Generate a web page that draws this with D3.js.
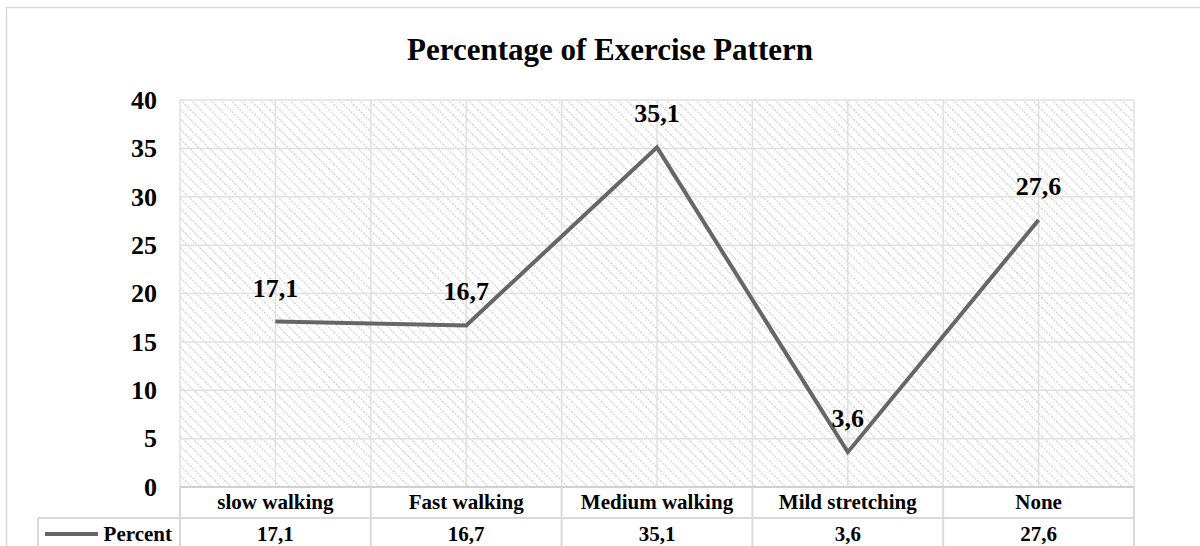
<!DOCTYPE html>
<html>
<head>
<meta charset="utf-8">
<script src="https://cdn.jsdelivr.net/npm/d3@7"></script>
<style>
  body { margin: 0; background: #fff; }
  text { font-family: "Liberation Serif", "Times New Roman", serif; font-weight: bold; fill: #000; }
</style>
</head>
<body>
<div id="chart"></div>
<script>
// chart data
var categories = ["slow walking", "Fast walking", "Medium walking", "Mild stretching", "None"];
var percent = [17.1, 16.7, 35.1, 3.6, 27.6];
var yTicks = [0, 5, 10, 15, 20, 25, 30, 35, 40];
var seriesName = "Percent";

var W = 1200, H = 546;
var margin = {top: 100, right: 66, bottom: 59, left: 180};
var plotW = W - margin.left - margin.right,
    plotH = H - margin.top - margin.bottom;

var svg = d3.select("#chart").append("svg")
    .attr("width", W)
    .attr("height", H);

// hatch fill for the plot area (downward diagonal)
var defs = svg.append("defs");
defs.append("pattern")
    .attr("id", "hatch")
    .attr("patternUnits", "userSpaceOnUse")
    .attr("width", 7).attr("height", 7)
    .attr("patternTransform", "rotate(-45)")
  .append("line")
    .attr("x1", 0).attr("y1", 0)
    .attr("x2", 0).attr("y2", 7)
    .attr("stroke", "#d2d2d2")
    .attr("stroke-width", 2.4)
    .attr("stroke-dasharray", "2,1");

// outer chart border
svg.append("rect")
    .attr("x", 6.5).attr("y", 7.5)
    .attr("width", 1210).attr("height", 560)
    .attr("fill", "none")
    .attr("stroke", "#d9d9d9")
    .attr("stroke-width", 1.5);

// title
svg.append("text")
    .attr("x", 610).attr("y", 60)
    .attr("text-anchor", "middle")
    .style("font-size", "31px")
    .text("Percentage of Exercise Pattern");

var g = svg.append("g")
    .attr("transform", "translate(" + margin.left + "," + margin.top + ")");

var x = d3.scaleBand()
    .domain(categories)
    .range([0, plotW]);

var y = d3.scaleLinear()
    .domain([0, 40])
    .range([plotH, 0]);

g.append("rect")
    .attr("width", plotW).attr("height", plotH)
    .attr("fill", "url(#hatch)");

// horizontal gridlines
g.selectAll("line.hgrid")
    .data(yTicks)
  .enter().append("line")
    .attr("class", "hgrid")
    .attr("x1", 0).attr("x2", plotW)
    .attr("y1", function(d) { return y(d); })
    .attr("y2", function(d) { return y(d); })
    .attr("stroke", "#e0e0e0")
    .attr("stroke-width", 1.5);

// vertical gridlines at category edges and centres
var vPos = [];
categories.forEach(function(c) {
  vPos.push(x(c));
  vPos.push(x(c) + x.bandwidth() / 2);
});
vPos.push(plotW);
g.selectAll("line.vgrid")
    .data(vPos)
  .enter().append("line")
    .attr("class", "vgrid")
    .attr("x1", function(d) { return d; })
    .attr("x2", function(d) { return d; })
    .attr("y1", 0).attr("y2", plotH)
    .attr("stroke", "#e0e0e0")
    .attr("stroke-width", 1.5);

// y axis labels
var yAxis = d3.axisLeft(y)
    .tickValues(yTicks)
    .tickSize(0)
    .tickPadding(23);
g.append("g")
    .call(yAxis)
    .call(function(a) { a.select(".domain").remove(); })
    .selectAll("text")
    .style("font-size", "26px")
    .attr("font-family", null);

// the line
var line = d3.line()
    .x(function(d, i) { return x(categories[i]) + x.bandwidth() / 2; })
    .y(function(d) { return y(d); });

g.append("path")
    .datum(percent)
    .attr("d", line)
    .attr("fill", "none")
    .attr("stroke", "#666666")
    .attr("stroke-width", 4)
    .attr("stroke-linejoin", "miter");

// data labels
var fmt = function(v) { return d3.format(".1f")(v).replace(".", ","); };
g.selectAll("text.dlabel")
    .data(percent)
  .enter().append("text")
    .attr("class", "dlabel")
    .attr("x", function(d, i) { return x(categories[i]) + x.bandwidth() / 2; })
    .attr("y", function(d) { return y(d) - 25; })
    .attr("text-anchor", "middle")
    .style("font-size", "26px")
    .text(function(d) { return fmt(d); });

// data table
var rowH = 31;
var tbl = g.append("g").attr("transform", "translate(0," + plotH + ")");
var border = "#d9d9d9";

// row lines
tbl.append("line").attr("x1", 0).attr("x2", plotW).attr("y1", 0).attr("y2", 0)
    .attr("stroke", "#d0d0d0").attr("stroke-width", 2);
tbl.append("line").attr("x1", -142).attr("x2", plotW).attr("y1", rowH).attr("y2", rowH)
    .attr("stroke", border).attr("stroke-width", 2);
tbl.append("line").attr("x1", -142).attr("x2", -142).attr("y1", rowH).attr("y2", rowH * 3)
    .attr("stroke", border).attr("stroke-width", 2);

var edges = categories.map(function(c) { return x(c); }).concat([plotW]);
tbl.selectAll("line.tcol")
    .data(edges)
  .enter().append("line")
    .attr("class", "tcol")
    .attr("x1", function(d) { return d; })
    .attr("x2", function(d) { return d; })
    .attr("y1", 0).attr("y2", rowH * 3)
    .attr("stroke", border)
    .attr("stroke-width", 2);

tbl.selectAll("text.cat")
    .data(categories)
  .enter().append("text")
    .attr("class", "cat")
    .attr("x", function(d) { return x(d) + x.bandwidth() / 2; })
    .attr("y", 22)
    .attr("text-anchor", "middle")
    .style("font-size", "21px")
    .text(function(d) { return d; });

tbl.selectAll("text.val")
    .data(percent)
  .enter().append("text")
    .attr("class", "val")
    .attr("x", function(d, i) { return x(categories[i]) + x.bandwidth() / 2; })
    .attr("y", rowH + 23)
    .attr("text-anchor", "middle")
    .style("font-size", "21px")
    .text(function(d) { return fmt(d); });

// legend key
tbl.append("line")
    .attr("x1", -135).attr("x2", -82)
    .attr("y1", rowH + 16).attr("y2", rowH + 16)
    .attr("stroke", "#666666")
    .attr("stroke-width", 4);
tbl.append("text")
    .attr("x", -8)
    .attr("y", rowH + 23)
    .attr("text-anchor", "end")
    .style("font-size", "21px")
    .text(seriesName);
</script>
</body>
</html>
